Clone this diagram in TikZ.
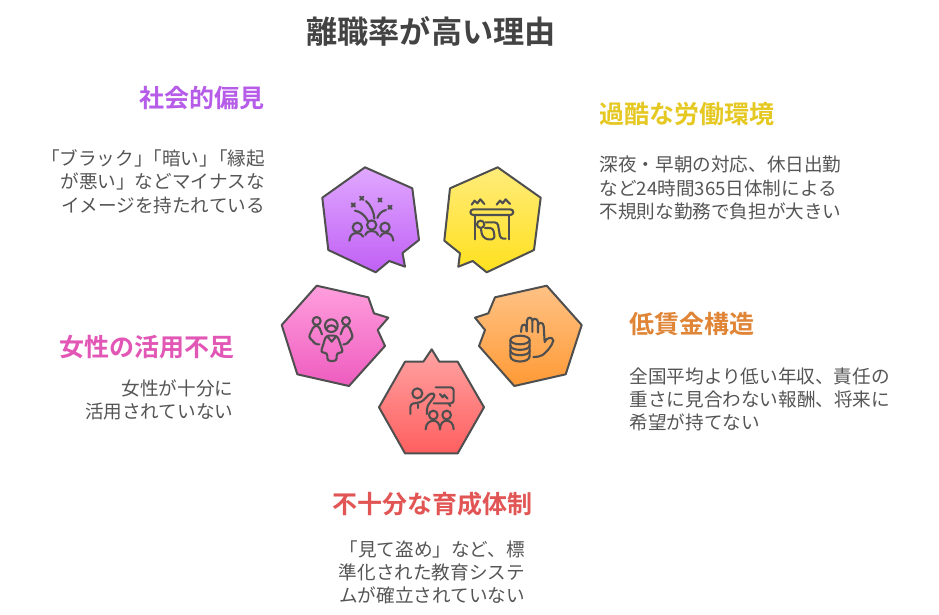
\documentclass[tikz,border=0pt]{standalone}
\usepackage{fontspec}
\setmainfont{Noto Sans CJK JP}[BoldFont={Noto Sans CJK JP Bold}]
\definecolor{inkc}{HTML}{4F4F4F}
\definecolor{titlec}{HTML}{434343}
\definecolor{bodyc}{HTML}{555555}
\definecolor{purplec}{HTML}{B65CE8}
\definecolor{yellowc}{HTML}{E5C822}
\definecolor{orangec}{HTML}{E08435}
\definecolor{redc}{HTML}{E25555}
\definecolor{pinkc}{HTML}{E256B6}
\definecolor{pT}{HTML}{E0A8FF}\definecolor{pB}{HTML}{C060F5}
\definecolor{yT}{HTML}{FFEC7A}\definecolor{yB}{HTML}{FFE01E}
\definecolor{mT}{HTML}{FF9EDD}\definecolor{mB}{HTML}{EE5CBF}
\definecolor{oT}{HTML}{FFC285}\definecolor{oB}{HTML}{FF9A36}
\definecolor{rT}{HTML}{FFA3A3}\definecolor{rB}{HTML}{FF5F5F}
\tikzset{
 hexa/.style={draw=inkc,line width=2pt,line join=round},
 iconline/.style={draw=inkc,line width=2.1pt,line cap=round,line join=round,fill=none},
 head/.style={font=\fontsize{25pt}{28pt}\selectfont\bfseries,inner sep=0pt},
 bodytext/.style={font=\fontsize{18.6pt}{23.2pt}\selectfont,text=bodyc,inner sep=0pt},
}
\begin{document}
\begin{tikzpicture}[x=1pt,y=-1pt]
\useasboundingbox[fill=white] (0,0) rectangle (939,614);
% title
\node[font=\fontsize{31.2pt}{34pt}\selectfont\bfseries,text=titlec,inner sep=0pt] (title) at (431,31) {離職率が高い理由};
% hexagons
\path[hexa,top color=pT,bottom color=pB]
 (365,167.3)--(412.3,188.3)--(419,240)--(402.5,253)--(405,266.7)--(389.3,261)--(375.7,272.3)--(328.3,250)--(322.3,197.7)--cycle;
\path[hexa,top color=yT,bottom color=yB]
 (497.7,167.3)--(540.7,197.7)--(534,250)--(486.7,272.3)--(472.7,261)--(458.3,266.7)--(460,253.3)--(444.3,240.7)--(450,188.3)--cycle;
\path[hexa,top color=mT,bottom color=mB]
 (316.7,285.7)--(368.3,297.3)--(374,313.3)--(388.3,317.7)--(377.7,330)--(385,346)--(349,386)--(297.3,374.3)--(281.7,325)--cycle;
\path[hexa,top color=oT,bottom color=oB]
 (546.7,285.7)--(581.7,325)--(565.7,374.3)--(514.3,386)--(479,346)--(485,330)--(475,317.7)--(488.3,313.3)--(495,297.3)--cycle;
\path[hexa,top color=rT,bottom color=rB]
 (431.7,349.3)--(439.3,361.7)--(457.7,361.7)--(484,407.3)--(457.7,453.3)--(405,453.3)--(379,407.3)--(405,361.7)--(423.3,361.7)--cycle;
% purple icon
\begin{scope}[shift={(340,190)},x=0.3333pt,y=-0.3333pt]
 \draw[iconline] (52,112) circle[radius=14] (95,105) circle[radius=14] (135,112) circle[radius=14];
 \draw[iconline] (28,152) .. controls (30,135) and (38,129) .. (52,129) .. controls (58,129) and (65,132) .. (70,140);
 \draw[iconline] (76,135) .. controls (80,125) and (88,123) .. (95,123) .. controls (102,123) and (110,125) .. (114,135);
 \draw[iconline] (120,140) .. controls (125,132) and (130,129) .. (135,129) .. controls (150,129) and (158,135) .. (160,152);
 \draw[iconline] (45,62) .. controls (62,65) and (75,75) .. (85,96);
 \draw[iconline] (78,33) .. controls (92,45) and (102,65) .. (103,86);
 \draw[iconline] (112,84) .. controls (116,72) and (125,63) .. (138,60);
 \foreach \cx/\cy in {40/45,65/25,120/30,150/52}{\draw[inkc,line width=2.1pt,line cap=round] (\cx-5,\cy-5)--(\cx+5,\cy+5) (\cx-5,\cy+5)--(\cx+5,\cy-5);}
\end{scope}
% yellow icon
\begin{scope}[shift={(465,190)},x=0.3333pt,y=-0.3333pt]
 \draw[iconline] (20,44)--(29,32)--(37,40)--(46,28)--(58,42);
 \draw[iconline] (95,44)--(105,32)--(113,40)--(122,28)--(135,42);
 \draw[iconline,rounded corners=3pt] (16,58) rectangle (145,75);
 \draw[iconline] (30,75)--(30,148) (132,75)--(132,148);
 \draw[iconline] (47,103) circle[radius=11];
 \draw[iconline,rounded corners=3pt] (62,97)--(98,97)--(106,146)--(122,146);
 \draw[iconline,rounded corners=3pt] (60,114)--(84,114)--(90,146)--(70,150)--(52,140)--(48,118);
\end{scope}
% pink icon
\begin{scope}[shift={(300,305)},x=0.3333pt,y=-0.3333pt]
 \draw[iconline] (94,62) circle[radius=19];
 \draw[iconline] (80,70) .. controls (84,58) and (104,58) .. (108,70);
 \draw[iconline,rounded corners=3pt] (78,92)--(112,92)--(130,143)--(110,143)--(110,168)--(82,168)--(82,143)--(62,143)--cycle;
 \draw[iconline] (82,94)--(95,110)--(108,94);
 \draw[iconline] (50,48) circle[radius=12] (138,48) circle[radius=12];
 \draw[iconline,rounded corners=3pt] (66,88)--(56,62)--(42,62)--(25,98)--(38,105)--(44,118)--(58,118);
 \draw[iconline,rounded corners=3pt] (122,88)--(132,62)--(146,62)--(160,98)--(148,105)--(142,118)--(130,118);
\end{scope}
% orange icon
\begin{scope}[shift={(500,310)},x=0.3333pt,y=-0.3333pt]
 \draw[iconline] (60,90) ellipse[x radius=29,y radius=13];
 \draw[iconline] (31,90)--(31,138) .. controls (31,160) and (89,160) .. (89,138)--(89,90);
 \draw[iconline] (31,106) .. controls (31,124) and (89,124) .. (89,106);
 \draw[iconline] (31,122) .. controls (31,140) and (89,140) .. (89,122);
 \draw[iconline] (63,66)--(65,50) .. controls (67,42) and (78,42) .. (79,50)--(80,64);
 \draw[iconline] (80,64)--(81,32) .. controls (82,20) and (96,20) .. (97,32)--(97,66);
 \draw[iconline] (97,32) .. controls (100,24) and (112,24) .. (114,36)--(114,68);
 \draw[iconline] (114,46) .. controls (116,36) and (130,36) .. (131,48)--(134,96) .. controls (140,82) and (158,78) .. (160,92) .. controls (155,110) and (140,125) .. (128,135) .. controls (120,140) and (110,141) .. (100,141);
\end{scope}
% red icon
\begin{scope}[shift={(405,380)},x=0.3333pt,y=-0.3333pt]
 \draw[iconline] (37,40) circle[radius=15];
 \draw[iconline,rounded corners=3pt] (16,102)--(16,72)--(50,66)--(78,38)--(92,44)--(66,80)--(66,102);
 \draw[iconline] (38,73)--(38,84);
 \draw[iconline,rounded corners=3pt] (92,22)--(146,22)--(146,70)--(86,70);
 \draw[iconline] (130,70)--(136,78);
 \draw[iconline] (105,42)--(113,52)--(118,45)--(128,56);
 \draw[iconline] (85,105) circle[radius=13] (125,105) circle[radius=13];
 \draw[iconline] (62,148) .. controls (62,130) and (75,122) .. (85,122) .. controls (95,122) and (105,130) .. (105,148);
 \draw[iconline] (105,148) .. controls (105,130) and (115,122) .. (125,122) .. controls (135,122) and (146,130) .. (146,148);
\end{scope}
% labels
\node[head,text=purplec,anchor=east] (hpurple) at (264.5,98) {社会的偏見};
\node[bodytext,align=right,anchor=north east] (bpurple) at (265,149.5) {「ブラック」\kern-9pt「暗い」\kern-9pt「縁起\\が悪い」などマイナスな\\イメージを持たれている};
\node[head,text=yellowc,anchor=west] (hyellow) at (599.5,114) {過酷な労働環境};
\node[bodytext,align=left,anchor=north west] (byellow) at (599.5,156) {深夜・早朝の対応、休日出勤\\など24時間365日体制による\\不規則な勤務で負担が大きい};
\node[head,text=orangec,anchor=west] (horange) at (629.5,323.5) {低賃金構造};
\node[bodytext,align=left,anchor=north west] (borange) at (629.5,367.5) {全国平均より低い年収、責任の\\重さに見合わない報酬、将来に\\希望が持てない};
\node[head,text=redc] (hred) at (432,504) {不十分な育成体制};
\node[bodytext,align=right,anchor=north east] (bred) at (525,540.5) {「見て盗め」など、標\\準化された教育システ\\ムが確立されていない};
\node[head,text=pinkc,anchor=east] (hpink) at (234.5,347) {女性の活用不足};
\node[bodytext,align=right,anchor=north east] (bpink) at (233.5,379.5) {女性が十分に\\活用されていない};
\end{tikzpicture}
\end{document}
